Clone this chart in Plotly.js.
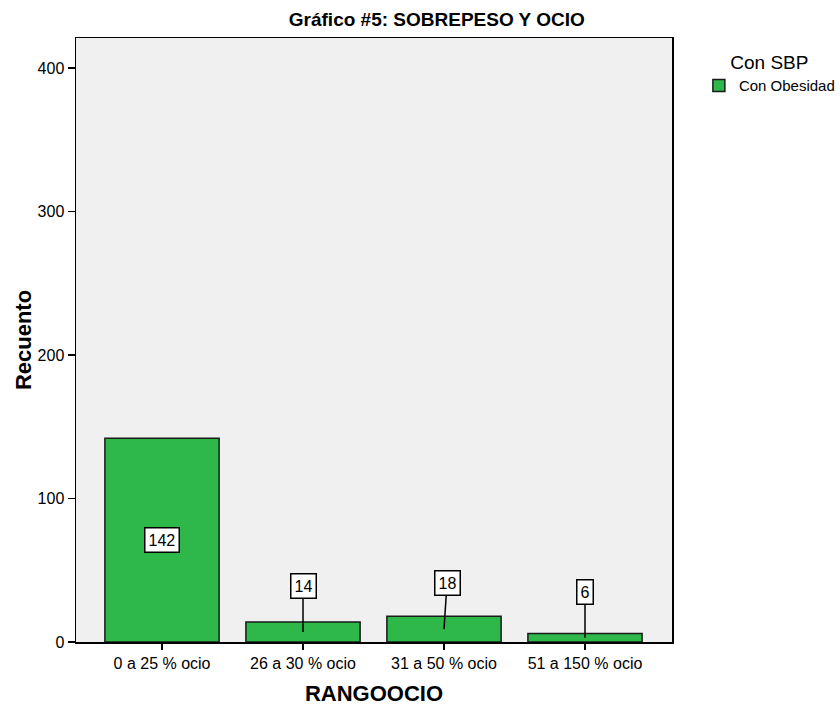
<!DOCTYPE html>
<html>
<head>
<meta charset="utf-8">
<script src="https://cdn.plot.ly/plotly-3.0.1.min.js"></script>
<style>
  html, body { margin: 0; padding: 0; background: #ffffff; }
  #chart { width: 840px; height: 706px; }
</style>
</head>
<body>
<div id="chart"></div>
<script>
// Counts of people with obesity, by share of leisure time
const categories = ["0 a 25 % ocio", "26 a 30 % ocio", "31 a 50 % ocio", "51 a 150 % ocio"];
const counts = [142, 14, 18, 6];
const seriesName = "Con Obesidad";
const yTicks = [0, 100, 200, 300, 400];

const font = "Arial, 'Liberation Sans', sans-serif";

const trace = {
  type: "bar",
  x: categories,
  y: counts,
  name: seriesName,
  showlegend: true,
  marker: { color: "#2fb84a", line: { color: "#1a1a1a", width: 1.5 } },
  hoverinfo: "x+y"
};

// Value boxes: the tall bar gets its label centred inside, the short bars
// get a box above with a leader line down to the middle of the bar.
const annotations = counts.map((v, i) => {
  const base = {
    x: categories[i], y: v / 2, xref: "x", yref: "y",
    text: String(v),
    font: { family: font, size: 16, color: "#000" },
    bgcolor: "#ffffff", bordercolor: "#000000", borderwidth: 1.5, borderpad: 3
  };
  if (v > 50) return Object.assign(base, { showarrow: false });
  return Object.assign(base, {
    showarrow: true, arrowhead: 0, arrowwidth: 1.5, arrowcolor: "#000",
    ax: i === 2 ? 3 : 0, ay: -46, standoff: 0
  });
});

const layout = {
  width: 840, height: 706,
  margin: { l: 76, r: 168, t: 38, b: 64, autoexpand: false },
  paper_bgcolor: "#ffffff",
  plot_bgcolor: "#f0f0f0",
  bargap: 0.19,
  title: {
    text: "<b>Gráfico #5: SOBREPESO Y OCIO</b>",
    font: { family: font, size: 19, color: "#000" },
    xref: "container", x: 0.52, xanchor: "center",
    yref: "container", y: 0.972, yanchor: "middle"
  },
  xaxis: {
    type: "category",
    range: [-0.61, 3.617],
    title: { text: "<b>RANGOOCIO</b>", font: { family: font, size: 22, color: "#000" }, standoff: 18 },
    tickfont: { family: font, size: 16, color: "#000" },
    ticks: "outside", ticklen: 6, tickwidth: 2, tickcolor: "#000",
    showline: true, linecolor: "#000", linewidth: 1.5, mirror: true,
    showgrid: false, zeroline: false, fixedrange: true, automargin: false
  },
  yaxis: {
    range: [0, 421],
    tickvals: yTicks,
    title: { text: "<b>Recuento</b>", font: { family: font, size: 22, color: "#000" }, standoff: 0 },
    tickfont: { family: font, size: 16, color: "#000" },
    ticks: "outside", ticklen: 7, tickwidth: 1.5, tickcolor: "#000",
    showline: true, linecolor: "#000", linewidth: 1.5, mirror: true,
    showgrid: false, zeroline: false, fixedrange: true, automargin: false
  },
  legend: {
    xref: "container", x: 0.832, xanchor: "left",
    yref: "container", y: 0.937, yanchor: "top",
    title: { text: "Con SBP", side: "top center", font: { family: font, size: 19, color: "#000" } },
    font: { family: font, size: 15, color: "#000" },
    bgcolor: "rgba(0,0,0,0)", itemwidth: 30, tracegroupgap: 0
  },
  annotations: annotations
};

Plotly.newPlot("chart", [trace], layout, { displayModeBar: false, staticPlot: true });
</script>
</body>
</html>
